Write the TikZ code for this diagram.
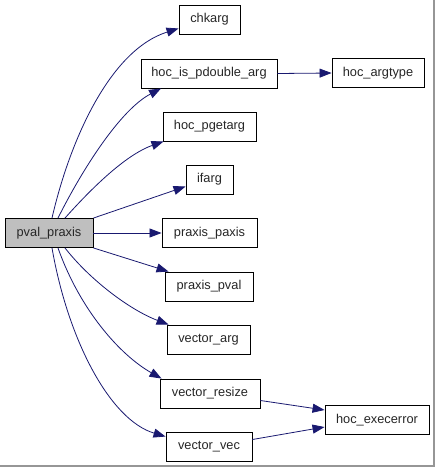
\documentclass[tikz,border=0pt]{standalone}
\usepackage{fontspec}
\setmainfont{Liberation Sans}
\usetikzlibrary{arrows.meta}
\definecolor{edgeblue}{RGB}{25,25,112}
\definecolor{framegray}{RGB}{150,150,150}
\begin{document}
\begin{tikzpicture}[x=1pt,y=-1pt,
  fn/.style={draw=black,line width=0.9pt,fill=white,minimum height=29pt,inner xsep=0pt,inner ysep=0pt,
    font=\fontsize{12.8}{14}\selectfont,text=black!85,anchor=center},
  root/.style={fn,fill=black!25},
  call/.style={draw=edgeblue,line width=0.8pt,-{Triangle[length=12pt,width=9pt]}}]
\useasboundingbox (0,0) rectangle (435,467);
\draw[framegray,line width=1.5pt] (434,0) -- (434,466) -- (0,466);
\node[root,minimum width=88pt] (pval) at (49,233) {pval\_praxis};
\node[fn,minimum width=61pt] (chkarg) at (209.5,19.5) {chkarg};
\node[fn,minimum width=136pt] (isp) at (209,73.5) {hoc\_is\_pdouble\_arg};
\node[fn,minimum width=92pt] (argtype) at (378,73) {hoc\_argtype};
\node[fn,minimum width=93pt] (pget) at (209.5,126.5) {hoc\_pgetarg};
\node[fn,minimum width=47pt] (ifarg) at (209.5,179.5) {ifarg};
\node[fn,minimum width=95pt] (paxis) at (209.5,233) {praxis\_paxis};
\node[fn,minimum width=88pt] (ppval) at (209,286.5) {praxis\_pval};
\node[fn,minimum width=83pt] (varg) at (208.5,339.5) {vector\_arg};
\node[fn,minimum width=100pt] (vres) at (210,393.5) {vector\_resize};
\node[fn,minimum width=86pt] (vvec) at (209,446.5) {vector\_vec};
\node[fn,minimum width=104pt] (exec) at (377,420) {hoc\_execerror};
\draw[call] ([xshift=3pt]pval.north) .. controls (70,140) and (110,50) .. ([yshift=6pt]chkarg.south west);
\draw[call] ([xshift=9pt]pval.north) .. controls (82,170) and (120,110) .. ([xshift=-48pt]isp.south);
\draw[call] ([xshift=16pt]pval.north) .. controls (90,190) and (125,155) .. ([xshift=-46pt]pget.south);
\draw[call] (pval.north east) -- ([yshift=-7pt]ifarg.west);
\draw[call] (pval.east) -- (paxis.west);
\draw[call] (pval.south east) -- ([xshift=4pt]ppval.north west);
\draw[call] ([xshift=16pt]pval.south) .. controls (90,280) and (130,310) .. ([xshift=2pt]varg.north west);
\draw[call] ([xshift=9pt]pval.south) .. controls (80,310) and (120,355) .. ([xshift=2pt]vres.north west);
\draw[call] ([xshift=3pt]pval.south) .. controls (68,340) and (110,420) .. ([yshift=-5pt]vvec.north west);
\draw[call] (isp.east) -- (argtype.west);
\draw[call] ([yshift=-7pt]vres.east) -- ([yshift=10pt]exec.west);
\draw[call] ([yshift=7pt]vvec.east) -- ([yshift=-7pt]exec.west);
\end{tikzpicture}
\end{document}
